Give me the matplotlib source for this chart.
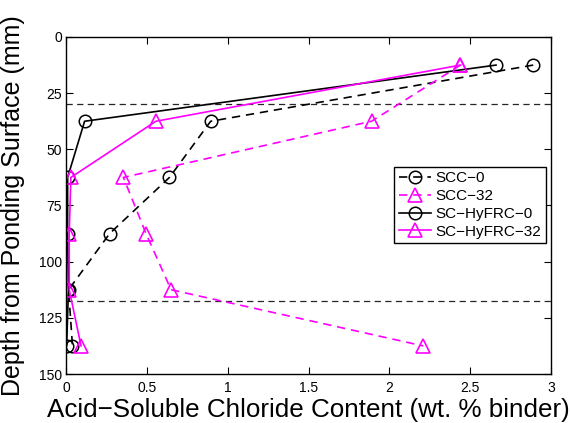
import numpy as np
import matplotlib
matplotlib.use('Agg')
from matplotlib import pyplot as plt

plt.rcParams['font.family'] = ['Liberation Sans', 'DejaVu Sans']

# depths of the sampled slices (mm)
depth = [12.5, 37.5, 62.5, 87.5, 112.5, 137.5]
# chloride content, wt. % binder
scc_0 = [2.89, 0.895, 0.64, 0.27, 0.016, 0.04]
scc_32 = [2.44, 1.89, 0.355, 0.495, 0.65, 2.21]
hyfrc_0 = [2.66, 0.115, 0.01, 0.01, 0.015, 0.004]
hyfrc_32 = [2.44, 0.556, 0.03, 0.02, 0.02, 0.093]
# horizontal reference lines (mm)
ref_depths = [30, 117.5]

fig = plt.figure(figsize=(5.71, 4.23), dpi=100)
ax = fig.add_axes([66/571, 1-374/423, 485/571, 337/423])

mag = '#ff00ff'
ms = 9
for d in ref_depths:
    ax.axhline(d, color='0.15', lw=0.9, dashes=(5, 3.5))

ax.plot(scc_0, depth, 'o', ls='--', dashes=(5, 3.5), color='k', mfc='none', ms=ms, mew=1.1, lw=1.2, label='SCC\u22120')
ax.plot(scc_32, depth, '^', ls='--', dashes=(5, 3.5), color=mag, mfc='none', ms=ms+0.5, mew=1.2, lw=1.2, label='SCC\u221232')
ax.plot(hyfrc_0, depth, 'o', ls='-', color='k', mfc='none', ms=ms, mew=1.1, lw=1.2, label='SC\u2212HyFRC\u22120')
ax.plot(hyfrc_32, depth, '^', ls='-', color=mag, mfc='none', ms=ms+0.5, mew=1.2, lw=1.2, label='SC\u2212HyFRC\u221232')

ax.set_xlim(0, 3)
ax.set_ylim(150, 0)
ax.set_xticks(np.arange(0, 3.01, 0.5))
ax.set_xticklabels(['0', '0.5', '1', '1.5', '2', '2.5', '3'])
ax.set_yticks(np.arange(0, 151, 25))
ax.tick_params(direction='in', top=True, right=True, length=5, width=0.8, labelsize=10, pad=3)
ax.tick_params(axis='x', pad=5)
for s in ax.spines.values():
    s.set_linewidth(1.0)

ax.set_xlabel('Acid\u2212Soluble Chloride Content (wt. % binder)', fontsize=18.7, labelpad=2)
ax.set_ylabel('Depth from Ponding Surface (mm)', fontsize=18, labelpad=10)

leg = ax.legend(loc='upper right', bbox_to_anchor=(0.989, 0.615), borderaxespad=0,
                fontsize=11, fancybox=False, edgecolor='k', framealpha=1,
                handlelength=2.1, handletextpad=0.3, labelspacing=0.25, borderpad=0.3)
leg.get_frame().set_linewidth(1.0)

plt.savefig('out.png', dpi=100)
